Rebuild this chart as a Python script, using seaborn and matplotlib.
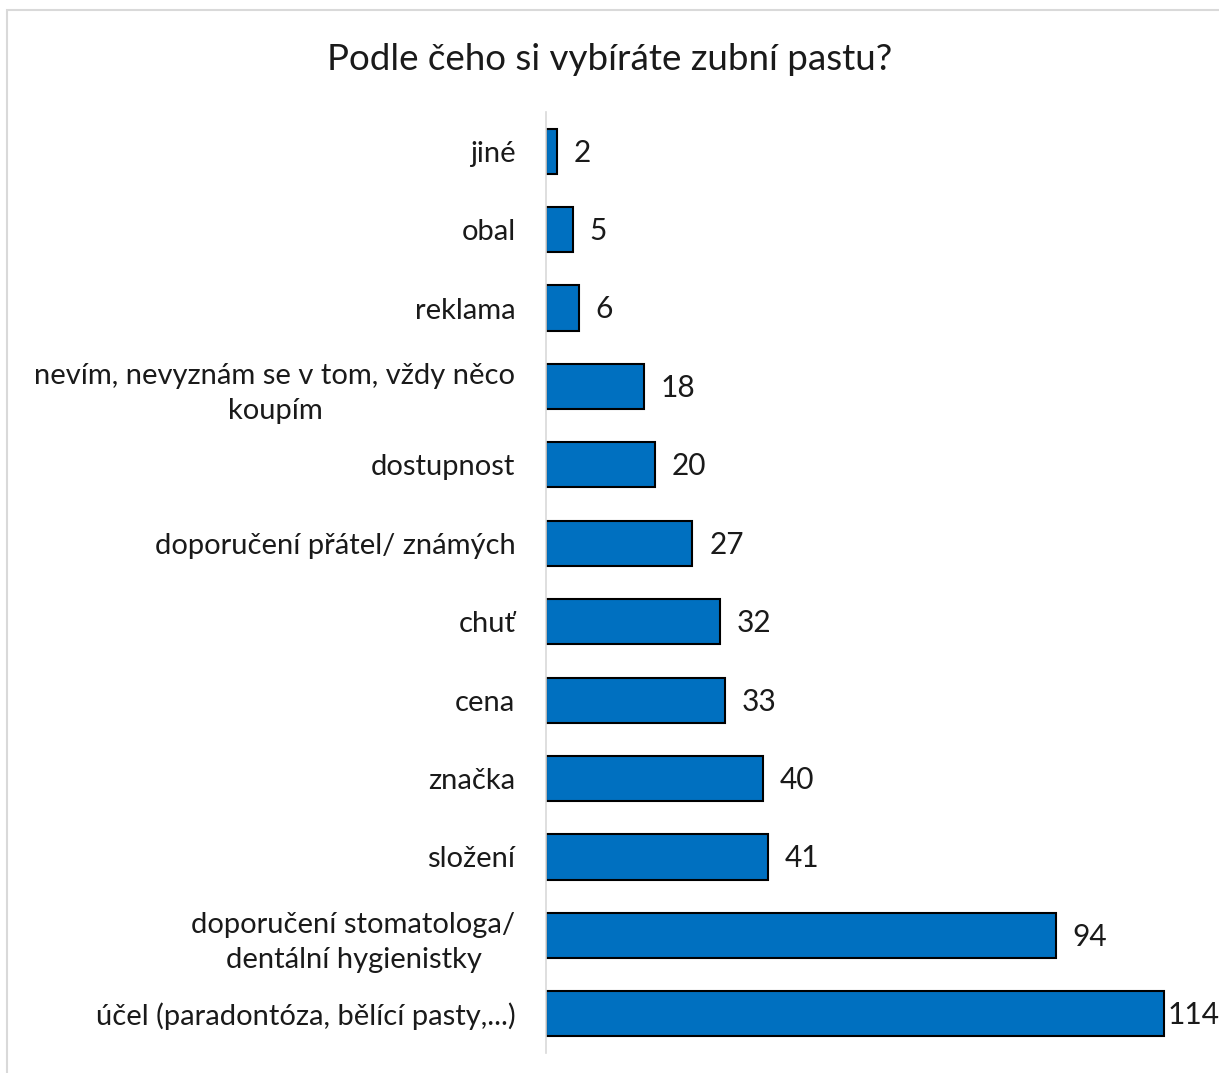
import matplotlib
matplotlib.use("Agg")
import matplotlib.pyplot as plt
from matplotlib.patches import Rectangle
import seaborn as sns
import pandas as pd

# Survey answers, top to bottom as shown
categories = [
    "jiné",
    "obal",
    "reklama",
    "nevím, nevyznám se v tom, vždy něco\nkoupím",
    "dostupnost",
    "doporučení přátel/ známých",
    "chuť",
    "cena",
    "značka",
    "složení",
    "doporučení stomatologa/\ndentální hygienistky",
    "účel (paradontóza, bělící pasty,...)",
]
counts = [2, 5, 6, 18, 20, 27, 32, 33, 40, 41, 94, 114]

title = "Podle čeho si vybíráte zubní pastu?"

sns.set_theme(style="white")
plt.rcParams["font.family"] = ["Lato", "Open Sans", "DejaVu Sans"]

df = pd.DataFrame({"kategorie": categories, "pocet": counts})

fig = plt.figure(figsize=(12.19, 10.73), dpi=100)
ax = fig.add_axes([546 / 1219, 1 - 1053 / 1073, (1197 - 546) / 1219, (1053 - 112) / 1073])

sns.barplot(
    data=df, y="kategorie", x="pocet", orient="h",
    color="#0070C0", saturation=1, width=0.575,
    edgecolor="black", linewidth=1.5, ax=ax,
)

ax.set_xlim(0, 120)
ax.set_ylim(len(categories) - 0.5, -0.5)
ax.set_xlabel("")
ax.set_ylabel("")
ax.set_xticks([])
for side in ["top", "right", "bottom"]:
    ax.spines[side].set_visible(False)
ax.spines["left"].set_color("#D9D9D9")
ax.spines["left"].set_linewidth(1.2)

ax.tick_params(axis="y", length=0, pad=22, labelsize=21)
for lbl in ax.get_yticklabels():
    lbl.set_multialignment("center")
    lbl.set_linespacing(1.45)
    lbl.set_color("#1a1a1a")

# value labels just past each bar end; the widest bar leaves little room
for i, v in enumerate(counts):
    off = 2 if v == max(counts) else 12
    ax.annotate(str(v), xy=(v, i), xytext=(off, -1), textcoords="offset points",
                va="center", ha="left", fontsize=21.5, color="#1a1a1a",
                annotation_clip=False)

fig.text(0.5, 1 - 60 / 1073, title, ha="center", va="center",
         fontsize=26.5, color="#1a1a1a")

# light frame around the chart area
fig.patches.append(Rectangle((7 / 1219, -0.1), 1.2, 1 - 10 / 1073 + 0.1,
                             transform=fig.transFigure, fill=False,
                             edgecolor="#D9D9D9", linewidth=1.5))

fig.savefig("out.png", dpi=100)
